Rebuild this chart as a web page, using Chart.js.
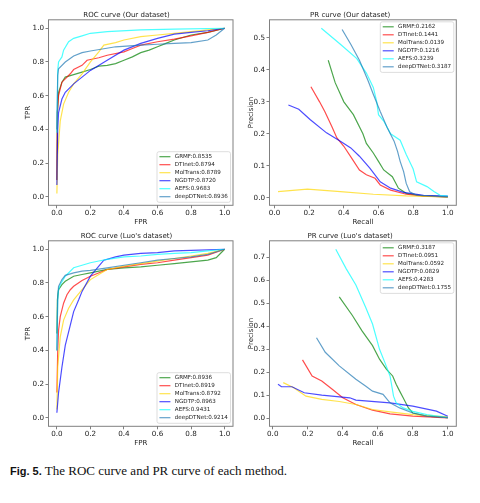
<!DOCTYPE html>
<html>
<head>
<meta charset="utf-8">
<script src="https://cdn.jsdelivr.net/npm/chart.js@4.4.0/dist/chart.umd.min.js"></script>
<style>
  body { margin: 0; background: #fff; width: 480px; height: 503px; position: relative; overflow: hidden; }
  canvas { position: absolute; }
  #caption { position: absolute; left: 10px; top: 463px; font-family: 'Liberation Serif', serif; font-size: 13px; line-height: 15px; white-space: nowrap; color: #111; }
  #caption b { font-family: 'Liberation Sans', Arial, sans-serif; font-size: 11px; }
</style>
</head>
<body>
<canvas id="rocOur" width="240" height="226" style="left:0;top:0"></canvas>
<canvas id="prOur" width="240" height="226" style="left:240px;top:0"></canvas>
<canvas id="rocLuo" width="240" height="226" style="left:0;top:221px"></canvas>
<canvas id="prLuo" width="240" height="226" style="left:240px;top:221px"></canvas>
<div id="caption"><b>Fig. 5.</b> The ROC curve and PR curve of each method.</div>
<script>
var methods = ['GRMF', 'DTInet', 'MolTrans', 'NGDTP', 'AEFS', 'deepDTNet'];
var colors = ['rgba(0,128,0,0.7)', 'rgba(255,0,0,0.7)', 'rgba(255,215,0,0.7)', 'rgba(0,0,255,0.7)', 'rgba(0,255,255,0.7)', 'rgba(31,119,180,0.7)'];

var ourRocAuc = [0.8535, 0.8794, 0.8789, 0.8720, 0.9683, 0.8936];
var ourPrAuc = [0.2162, 0.1441, 0.0139, 0.1216, 0.3239, 0.3187];
var luoRocAuc = [0.8936, 0.8919, 0.8792, 0.8963, 0.9431, 0.9214];
var luoPrAuc = [0.3187, 0.0951, 0.0592, 0.0829, 0.4283, 0.1755];

var rocTicks = [0, 0.2, 0.4, 0.6, 0.8, 1.0];
var recallTicks = [0, 0.2, 0.4, 0.6, 0.8, 1.0];
var ourPrTicks = [0, 0.1, 0.2, 0.3, 0.4, 0.5];
var luoPrTicks = [0, 0.1, 0.2, 0.3, 0.4, 0.5, 0.6, 0.7];

// ROC curve (Our dataset): [FPR, TPR]
var ourRocGRMF = [[0,0.1],[0.003,0.5],[0.01,0.62],[0.03,0.68],[0.05,0.71],[0.1,0.725],[0.15,0.74],[0.2,0.755],[0.25,0.775],[0.3,0.78],[0.35,0.79],[0.4,0.81],[0.45,0.83],[0.5,0.855],[0.55,0.87],[0.6,0.89],[0.65,0.91],[0.7,0.93],[0.8,0.96],[0.9,0.975],[1,1]];
var ourRocDTInet = [[0,0.1],[0.003,0.5],[0.01,0.6],[0.03,0.68],[0.05,0.7],[0.08,0.73],[0.1,0.755],[0.15,0.78],[0.18,0.81],[0.25,0.825],[0.3,0.84],[0.4,0.86],[0.45,0.88],[0.5,0.9],[0.6,0.92],[0.7,0.935],[0.8,0.955],[0.9,0.975],[1,1]];
var ourRocMolTrans = [[0,0.02],[0.005,0.25],[0.02,0.45],[0.04,0.55],[0.07,0.62],[0.1,0.67],[0.15,0.73],[0.2,0.8],[0.25,0.86],[0.28,0.9],[0.35,0.915],[0.4,0.93],[0.5,0.95],[0.6,0.96],[0.7,0.97],[0.8,0.98],[0.9,0.99],[1,1]];
var ourRocNGDTP = [[0,0.07],[0.005,0.4],[0.01,0.5],[0.03,0.58],[0.05,0.62],[0.1,0.67],[0.15,0.71],[0.2,0.75],[0.3,0.81],[0.4,0.87],[0.5,0.91],[0.6,0.94],[0.7,0.965],[0.8,0.975],[0.9,0.985],[1,1]];
var ourRocAEFS = [[0,0.38],[0.005,0.75],[0.01,0.8],[0.03,0.83],[0.04,0.87],[0.07,0.92],[0.1,0.94],[0.15,0.955],[0.2,0.97],[0.3,0.98],[0.5,0.99],[0.7,0.995],[1,1]];
var ourRocDeep = [[0,0.4],[0.005,0.72],[0.01,0.76],[0.05,0.8],[0.1,0.835],[0.15,0.855],[0.2,0.865],[0.35,0.89],[0.5,0.9],[0.6,0.905],[0.7,0.91],[0.8,0.915],[0.9,0.93],[0.95,0.96],[1,1]];

// PR curve (Our dataset): [Recall, Precision]
var ourPrGRMF = [[0.31,0.43],[0.35,0.36],[0.4,0.3],[0.455,0.26],[0.51,0.2],[0.53,0.17],[0.57,0.14],[0.6,0.114],[0.63,0.087],[0.68,0.066],[0.715,0.03],[0.76,0.014],[0.86,0.006],[1,0.003]];
var ourPrDTInet = [[0.21,0.347],[0.26,0.3],[0.29,0.27],[0.33,0.224],[0.36,0.187],[0.4,0.161],[0.445,0.124],[0.49,0.087],[0.53,0.072],[0.58,0.061],[0.61,0.04],[0.67,0.024],[0.76,0.011],[0.86,0.005],[1,0.003]];
var ourPrMolTrans = [[0.02,0.019],[0.19,0.027],[0.38,0.019],[0.57,0.011],[0.76,0.006],[1,0.003]];
var ourPrNGDTP = [[0.08,0.29],[0.14,0.277],[0.205,0.245],[0.3,0.203],[0.38,0.177],[0.44,0.156],[0.49,0.13],[0.55,0.093],[0.61,0.05],[0.67,0.03],[0.745,0.017],[0.86,0.008],[1,0.005]];
var ourPrAEFS = [[0.27,0.53],[0.38,0.48],[0.475,0.435],[0.53,0.39],[0.57,0.345],[0.59,0.3],[0.6,0.26],[0.63,0.24],[0.67,0.2],[0.725,0.18],[0.76,0.135],[0.8,0.09],[0.82,0.05],[0.88,0.035],[0.92,0.02],[0.955,0.008],[1,0.005]];
var ourPrDeep = [[0.39,0.526],[0.44,0.48],[0.49,0.43],[0.54,0.366],[0.57,0.324],[0.61,0.27],[0.65,0.22],[0.69,0.177],[0.71,0.145],[0.725,0.114],[0.745,0.082],[0.76,0.045],[0.78,0.019],[0.82,0.008],[1,0.003]];

// ROC curve (Luo's dataset)
var luoRocGRMF = [[0,0.5],[0.003,0.7],[0.01,0.76],[0.03,0.79],[0.05,0.81],[0.1,0.84],[0.15,0.85],[0.2,0.86],[0.3,0.88],[0.4,0.89],[0.5,0.895],[0.6,0.905],[0.7,0.915],[0.8,0.925],[0.9,0.935],[0.95,0.95],[1,1]];
var luoRocDTInet = [[0,0.15],[0.005,0.4],[0.01,0.52],[0.02,0.6],[0.04,0.68],[0.06,0.73],[0.08,0.76],[0.1,0.78],[0.15,0.815],[0.2,0.84],[0.3,0.88],[0.4,0.895],[0.5,0.91],[0.6,0.92],[0.7,0.935],[0.8,0.95],[0.9,0.965],[1,1]];
var luoRocMolTrans = [[0,0.05],[0.005,0.3],[0.02,0.48],[0.04,0.58],[0.07,0.65],[0.1,0.7],[0.15,0.76],[0.2,0.82],[0.25,0.85],[0.3,0.88],[0.4,0.9],[0.5,0.915],[0.6,0.93],[0.7,0.945],[0.8,0.96],[0.9,0.975],[1,1]];
var luoRocNGDTP = [[0,0.03],[0.01,0.15],[0.03,0.3],[0.05,0.43],[0.08,0.55],[0.1,0.63],[0.13,0.7],[0.15,0.75],[0.2,0.84],[0.25,0.9],[0.28,0.935],[0.35,0.955],[0.4,0.965],[0.5,0.975],[0.6,0.98],[0.7,0.99],[0.8,0.993],[1,1]];
var luoRocAEFS = [[0,0.4],[0.005,0.7],[0.01,0.76],[0.02,0.79],[0.05,0.84],[0.1,0.89],[0.15,0.905],[0.2,0.92],[0.25,0.93],[0.3,0.94],[0.4,0.955],[0.5,0.96],[0.6,0.97],[0.7,0.975],[0.8,0.98],[0.9,0.99],[1,1]];
var luoRocDeep = [[0,0.4],[0.005,0.72],[0.01,0.78],[0.03,0.82],[0.05,0.845],[0.1,0.86],[0.15,0.87],[0.2,0.875],[0.3,0.89],[0.4,0.905],[0.5,0.92],[0.6,0.935],[0.7,0.945],[0.8,0.955],[0.9,0.97],[1,1]];

// PR curve (Luo's dataset)
var luoPrGRMF = [[0.38,0.528],[0.455,0.447],[0.51,0.38],[0.57,0.316],[0.61,0.257],[0.65,0.213],[0.685,0.184],[0.705,0.148],[0.725,0.118],[0.745,0.089],[0.775,0.045],[0.8,0.023],[0.88,0.009],[1,0.003]];
var luoPrDTInet = [[0.17,0.254],[0.225,0.184],[0.28,0.162],[0.34,0.126],[0.4,0.089],[0.475,0.06],[0.57,0.035],[0.67,0.019],[0.8,0.009],[1,0.002]];
var luoPrMolTrans = [[0.06,0.155],[0.12,0.133],[0.19,0.096],[0.28,0.082],[0.38,0.073],[0.475,0.06],[0.57,0.038],[0.67,0.028],[0.8,0.016],[1,0.006]];
var luoPrNGDTP = [[0.03,0.148],[0.05,0.137],[0.11,0.137],[0.18,0.111],[0.28,0.101],[0.44,0.089],[0.475,0.079],[0.67,0.067],[0.8,0.053],[0.935,0.031],[1,0.009]];
var luoPrAEFS = [[0.36,0.735],[0.42,0.65],[0.475,0.58],[0.53,0.484],[0.57,0.41],[0.61,0.3],[0.64,0.243],[0.67,0.184],[0.69,0.096],[0.705,0.067],[0.745,0.045],[0.8,0.03],[0.88,0.016],[1,0.003]];
var luoPrDeep = [[0.25,0.35],[0.3,0.287],[0.38,0.228],[0.475,0.17],[0.53,0.14],[0.57,0.118],[0.63,0.104],[0.67,0.067],[0.725,0.045],[0.8,0.023],[0.88,0.009],[1,0.003]];

Chart.defaults.font.family = 'DejaVu Sans';
Chart.defaults.color = '#222';

// matplotlib-like box around the plot + legend inside it
var frameAndLegend = {
  id: 'frameAndLegend',
  afterDatasetsDraw(chart, args, opts) {
    var ctx = chart.ctx, area = chart.chartArea;
    ctx.save();
    ctx.strokeStyle = '#808080';
    ctx.lineWidth = 1;
    ctx.strokeRect(area.left, area.top, area.right - area.left, area.bottom - area.top);

    var items = chart.data.datasets;
    ctx.font = '5.6px "DejaVu Sans"';
    var tw = 0;
    items.forEach(function (d) { tw = Math.max(tw, ctx.measureText(d.label).width); });
    var w = 2.4 + 11 + 4.4 + tw + 2.7;
    var rowH = 8, h = rowH * items.length + 2.6;
    var x = area.right - 2.5 - w;
    var y = opts.corner === 'lower' ? area.bottom - 3 - h : area.top + 2;
    ctx.fillStyle = 'rgba(255,255,255,0.8)';
    ctx.strokeStyle = '#d4d4d4';
    ctx.lineWidth = 0.8;
    ctx.beginPath();
    ctx.roundRect(x, y, w, h, 2);
    ctx.fill();
    ctx.stroke();
    items.forEach(function (d, i) {
      var cy = y + 5 + i * rowH;
      ctx.strokeStyle = d.borderColor;
      ctx.lineWidth = 1.2;
      ctx.beginPath();
      ctx.moveTo(x + 2.4, cy);
      ctx.lineTo(x + 13.4, cy);
      ctx.stroke();
      ctx.fillStyle = '#222';
      ctx.textBaseline = 'middle';
      ctx.fillText(d.label, x + 17.8, cy);
    });
    ctx.restore();
  }
};

function makeDatasets(curves, auc) {
  return curves.map(function (pts, i) {
    return {
      label: methods[i] + ':' + auc[i].toFixed(4),
      data: pts.map(function (p) { return { x: p[0], y: p[1] }; }),
      borderColor: colors[i],
      borderWidth: 1.2,
      pointRadius: 0,
      tension: 0,
      fill: false,
      order: curves.length - i
    };
  });
}

function axis(min, max, ticks, title, isY, size, titlePad) {
  return {
    type: 'linear',
    min: min,
    max: max,
    afterBuildTicks: function (scale) { scale.ticks = ticks.map(function (v) { return { value: v }; }); },
    afterFit: function (scale) { if (isY) scale.width = size; else scale.height = size; },
    grid: { drawOnChartArea: false, drawTicks: true, tickLength: 3, color: '#808080', lineWidth: 1 },
    border: { display: false },
    ticks: {
      font: { size: 7.2, lineHeight: 1 },
      padding: 1.5,
      color: '#222',
      maxRotation: 0,
      autoSkip: false,
      callback: function (v) { return v.toFixed(1); }
    },
    title: { display: true, text: title, font: { size: 7, lineHeight: 1 }, color: '#222', padding: titlePad }
  };
}

function makeChart(id, title, curves, auc, xRange, yRange, xTicks, yTicks, xTitle, yTitle, leftCol, corner) {
  var padLeft = leftCol ? 20 : 4;
  var yWidth = leftCol ? 28.5 : 25.5;
  var padRight = leftCol ? 7 : 23.7;
  var yTitlePad = leftCol ? { top: 4.8, bottom: 0 } : { top: 3.6, bottom: 0 };
  return new Chart(document.getElementById(id), {
    type: 'line',
    data: { datasets: makeDatasets(curves, auc) },
    options: {
      responsive: false,
      animation: false,
      layout: { padding: { left: padLeft, right: padRight, top: 0, bottom: 0 } },
      scales: {
        x: axis(xRange[0], xRange[1], xTicks, xTitle, false, 20.7, { top: 0, bottom: 0.5 }),
        y: axis(yRange[0], yRange[1], yTicks, yTitle, true, yWidth, yTitlePad)
      },
      plugins: {
        legend: { display: false },
        tooltip: { enabled: false },
        title: { display: true, text: title, font: { size: 7, weight: 'normal' }, color: '#222', padding: { top: 10.8, bottom: 0.6 } },
        frameAndLegend: { corner: corner }
      }
    },
    plugins: [frameAndLegend]
  });
}

makeChart('rocOur', 'ROC curve (Our dataset)',
  [ourRocGRMF, ourRocDTInet, ourRocMolTrans, ourRocNGDTP, ourRocAEFS, ourRocDeep], ourRocAuc,
  [-0.05, 1.05], [-0.05, 1.05], rocTicks, rocTicks, 'FPR', 'TPR', true, 'lower');

makeChart('prOur', 'PR curve (Our dataset)',
  [ourPrGRMF, ourPrDTInet, ourPrMolTrans, ourPrNGDTP, ourPrAEFS, ourPrDeep], ourPrAuc,
  [-0.029, 1.049], [-0.0235, 0.5565], recallTicks, ourPrTicks, 'Recall', 'Precision', false, 'upper');

makeChart('rocLuo', "ROC curve (Luo's dataset)",
  [luoRocGRMF, luoRocDTInet, luoRocMolTrans, luoRocNGDTP, luoRocAEFS, luoRocDeep], luoRocAuc,
  [-0.05, 1.05], [-0.05, 1.05], rocTicks, rocTicks, 'FPR', 'TPR', true, 'lower');

makeChart('prLuo', "PR curve (Luo's dataset)",
  [luoPrGRMF, luoPrDTInet, luoPrMolTrans, luoPrNGDTP, luoPrAEFS, luoPrDeep], luoPrAuc,
  [-0.0185, 1.0485], [-0.035, 0.772], recallTicks, luoPrTicks, 'Recall', 'Precision', false, 'upper');
</script>
</body>
</html>
